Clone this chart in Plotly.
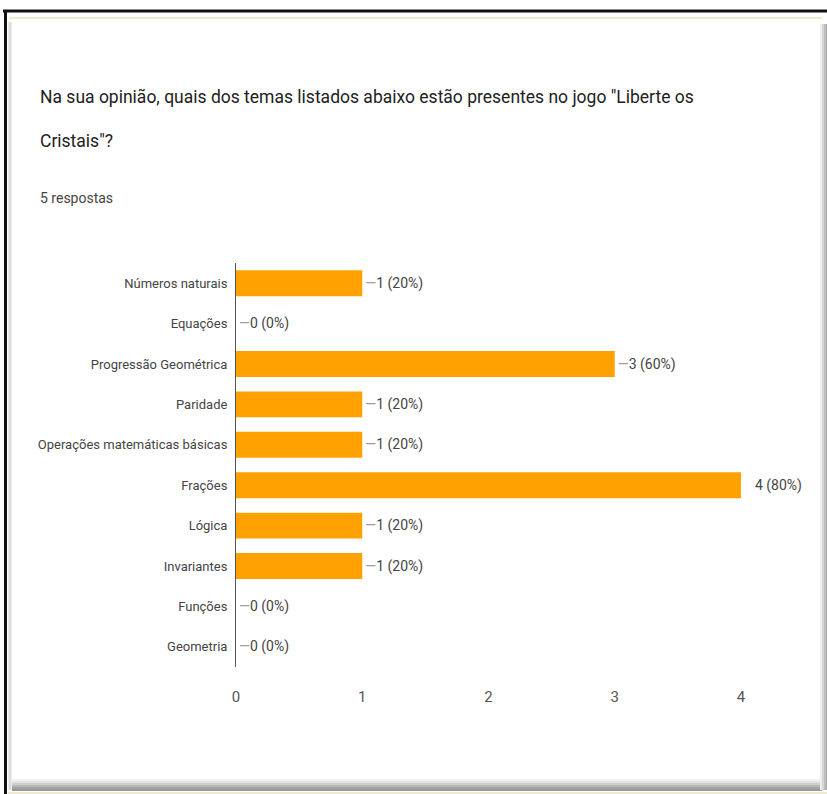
import plotly.graph_objects as go

categories = ["Números naturais", "Equações", "Progressão Geométrica", "Paridade",
              "Operações matemáticas básicas", "Frações", "Lógica", "Invariantes",
              "Funções", "Geometria"]
counts = [1, 0, 3, 1, 1, 4, 1, 1, 0, 0]
total_responses = 5
x_ticks = [0, 1, 2, 3, 4]

title_line1 = 'Na sua opinião, quais dos temas listados abaixo estão presentes no jogo "Liberte os'
title_line2 = 'Cristais"?'
subtitle = "5 respostas"

FONT = "Roboto, Arial, sans-serif"
W, H = 827, 794
L, R, T, B = 236, 741, 263, 667  # plot area in pixels


def px(xp):
    return (xp - L) / (R - L)


def py(yp):
    return (B - yp) / (B - T)


max_c = max(counts)
labels = []
for c in counts:
    pct = round(100 * c / total_responses)
    dash = '<span style="color:rgba(0,0,0,0)">—</span>' if c == max_c else '<span style="color:#9e9e9e">—</span>'
    labels.append(f"{dash}{c} ({pct}%)")

fig = go.Figure()
fig.add_trace(go.Bar(
    y=categories, x=counts, orientation="h",
    marker=dict(color="#FFA100", line=dict(width=0)),
    text=labels, textposition="outside", constraintext="none",
    textfont=dict(family=FONT, size=14, color="#444444"),
    cliponaxis=False, hoverinfo="skip",
))

shapes = []
# frame: black top and left lines
shapes.append(dict(type="line", xref="paper", yref="paper", x0=px(3), x1=px(827), y0=py(11), y1=py(11),
                   line=dict(color="#111111", width=3)))
shapes.append(dict(type="line", xref="paper", yref="paper", x0=px(5.5), x1=px(5.5), y0=py(10), y1=py(794),
                   line=dict(color="#111111", width=3)))
# cream inner line
shapes.append(dict(type="line", xref="paper", yref="paper", x0=px(9), x1=px(822), y0=py(18), y1=py(18),
                   line=dict(color="#efe9cf", width=2)))
# left soft shadow
shapes.append(dict(type="line", xref="paper", yref="paper", x0=px(10), x1=px(10), y0=py(22), y1=py(790),
                   line=dict(color="#dcdcdc", width=3)))
# bottom shadow gradient
for yy, col in [(780, "#f2f2f2"), (782, "#e2e2e2"), (784, "#cfcfcf"), (786, "#b8b8b8"), (788, "#a2a2a2"), (790, "#9a9a9a")]:
    shapes.append(dict(type="line", xref="paper", yref="paper", x0=px(12), x1=px(822), y0=py(yy), y1=py(yy),
                       line=dict(color=col, width=2)))
shapes.append(dict(type="line", xref="paper", yref="paper", x0=px(8), x1=px(827), y0=py(793), y1=py(793),
                   line=dict(color="#efe9cf", width=2)))
# right shadow gradient
for xx, col in [(821, "#eeeeee"), (823, "#d6d6d6"), (825, "#bdbdbd"), (827, "#a8a8a8")]:
    shapes.append(dict(type="line", xref="paper", yref="paper", x0=px(xx), x1=px(xx), y0=py(24), y1=py(790),
                       line=dict(color=col, width=2)))

annotations = [
    dict(text=title_line1, xref="paper", yref="paper", x=px(38), y=py(97), xanchor="left", yanchor="middle",
         showarrow=False, font=dict(family=FONT, size=17.5, color="#212121")),
    dict(text=title_line2, xref="paper", yref="paper", x=px(38), y=py(141), xanchor="left", yanchor="middle",
         showarrow=False, font=dict(family=FONT, size=17.5, color="#212121")),
    dict(text=subtitle, xref="paper", yref="paper", x=px(38), y=py(198), xanchor="left", yanchor="middle",
         showarrow=False, font=dict(family=FONT, size=14, color="#444444")),
]

fig.update_layout(
    width=W, height=H,
    margin=dict(l=L, r=W - R, t=T, b=H - B, pad=0),
    paper_bgcolor="white", plot_bgcolor="white",
    bargap=0.36, showlegend=False,
    shapes=shapes, annotations=annotations,
    xaxis=dict(range=[0, 4], tickvals=x_ticks, ticktext=[str(t) for t in x_ticks],
               showgrid=False, zeroline=False, showline=False,
               ticks="outside", ticklen=16, tickcolor="rgba(0,0,0,0)",
               tickfont=dict(family=FONT, size=15, color="#555555"), fixedrange=True),
    yaxis=dict(autorange="reversed", showgrid=False, zeroline=False,
               showline=True, linecolor="#555555", linewidth=1,
               ticks="outside", ticklen=5, tickcolor="rgba(0,0,0,0)",
               tickfont=dict(family=FONT, size=13, color="#444444"), fixedrange=True),
)

fig.write_html("out.html", config={"displayModeBar": False},
               post_script="document.body.style.margin='0';document.body.style.overflow='hidden';")
